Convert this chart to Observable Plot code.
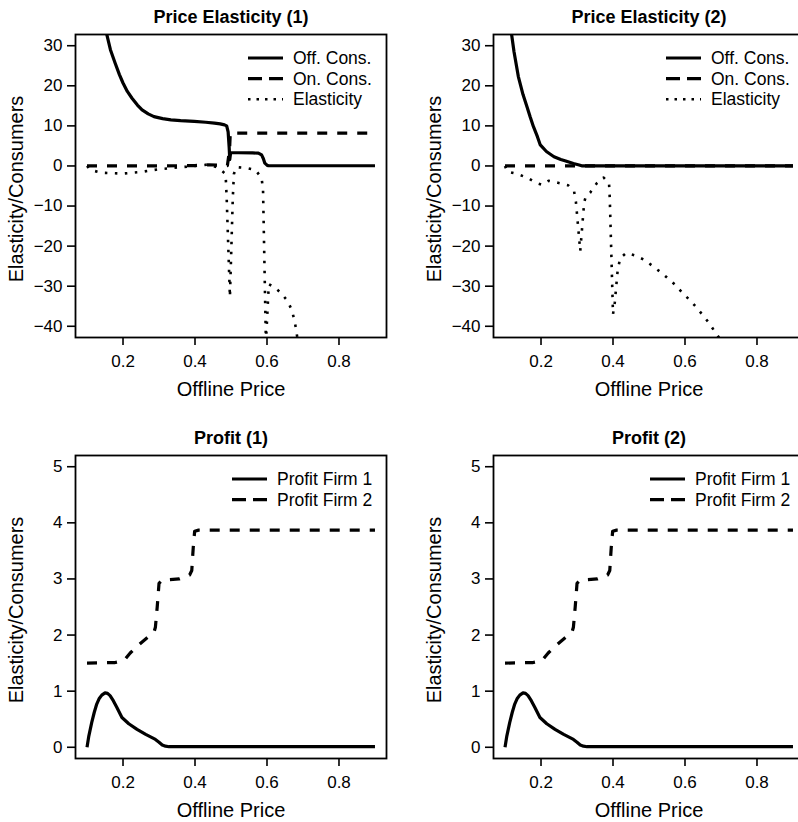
<!DOCTYPE html>
<html>
<head>
<meta charset="utf-8">
<script src="https://cdn.jsdelivr.net/npm/d3@7"></script>
<script src="https://cdn.jsdelivr.net/npm/@observablehq/plot@0.6"></script>
<style>
  html, body { margin: 0; padding: 0; background: #fff; }
  #fig { position: relative; width: 798px; height: 822px; overflow: hidden; background: #fff;
         font-family: "Liberation Sans", Arial, Helvetica, sans-serif; }
  .panel { position: absolute; }
  .legend { position: absolute; left: 0; top: 0; overflow: visible; pointer-events: none; }
</style>
</head>
<body>
<div id="fig"></div>
<script>
// ---------- text & ticks ----------
const titles = ["Price Elasticity (1)", "Price Elasticity (2)", "Profit (1)", "Profit (2)"];
const xLabel = "Offline Price";
const yLabel = "Elasticity/Consumers";
const xTicks = [0.2, 0.4, 0.6, 0.8];
const yTicksElasticity = [-40, -30, -20, -10, 0, 10, 20, 30];
const yTicksProfit = [0, 1, 2, 3, 4, 5];
const elasticitySeries = ["Off. Cons.", "On. Cons.", "Elasticity"];
const profitSeries = ["Profit Firm 1", "Profit Firm 2"];

// ---------- Price Elasticity (1) ----------
const off1X = [0.1, 0.11, 0.12, 0.13, 0.14, 0.15, 0.155, 0.165, 0.178, 0.19, 0.2, 0.212, 0.225, 0.24, 0.253, 0.27, 0.286, 0.31, 0.333, 0.36, 0.398, 0.43, 0.454, 0.47, 0.482, 0.488, 0.492, 0.495, 0.4965, 0.499, 0.52, 0.56, 0.576, 0.585, 0.59, 0.594, 0.6, 0.604, 0.7, 0.8, 0.9];
const off1Y = [80, 62, 52, 44, 38.5, 34.5, 32.75, 29, 25.7, 22.8, 20.7, 18.6, 16.9, 15.2, 14, 13, 12.3, 11.8, 11.5, 11.3, 11.1, 10.9, 10.7, 10.5, 10.25, 10, 8.5, 4.5, 1.6, 3.3, 3.3, 3.25, 3.2, 2.75, 1.8, 0.7, 0.2, 0.05, 0.05, 0.05, 0.05];
const on1X = [0.1, 0.2, 0.3, 0.4, 0.44, 0.47, 0.49, 0.496, 0.498, 0.6, 0.7, 0.8, 0.9];
const on1Y = [0, 0, 0, 0.1, 0.3, 0.2, 0.1, 4, 8.2, 8.2, 8.2, 8.2, 8.2];
const el1X = [0.1, 0.11, 0.14, 0.2, 0.25, 0.3, 0.35, 0.4, 0.44, 0.465, 0.485, 0.488, 0.497, 0.505, 0.508, 0.515, 0.543, 0.568, 0.585, 0.589, 0.597, 0.605, 0.62, 0.64, 0.658, 0.669, 0.676, 0.681, 0.686];
const el1Y = [0, -1, -1.7, -1.9, -1.5, -0.8, -0.4, 0, 0.4, -0.5, -2, -8, -32.7, -8, -2, -0.3, -0.5, -1, -3, -6, -44, -29.5, -30.2, -31.8, -33.8, -36, -38.4, -40.8, -44];

// ---------- Price Elasticity (2) ----------
const off2X = [0.1, 0.105, 0.11, 0.115, 0.118, 0.125, 0.137, 0.15, 0.161, 0.17, 0.179, 0.19, 0.198, 0.215, 0.236, 0.255, 0.273, 0.29, 0.306, 0.315, 0.4, 0.5, 0.6, 0.7, 0.8, 0.9];
const off2Y = [60, 48, 40, 35, 33, 28.5, 22.3, 17.8, 14.8, 12.2, 9.8, 7.3, 5.25, 3.6, 2.3, 1.6, 1.1, 0.6, 0.25, 0, 0, 0, 0, 0, 0, 0];
const on2X = [0.1, 0.2, 0.3, 0.5, 0.7, 0.9];
const on2Y = [0, 0, 0, 0, 0, 0];
const el2X = [0.1, 0.106, 0.134, 0.161, 0.186, 0.203, 0.221, 0.247, 0.275, 0.292, 0.297, 0.309, 0.32, 0.325, 0.337, 0.355, 0.374, 0.389, 0.391, 0.4, 0.405, 0.413, 0.42, 0.437, 0.461, 0.489, 0.513, 0.534, 0.555, 0.576, 0.594, 0.614, 0.633, 0.651, 0.668, 0.683, 0.7];
const el2Y = [0, -1.4, -2, -2.9, -4.2, -4.7, -3.7, -4.2, -4.8, -6.4, -9, -21.2, -9, -7.5, -6.6, -4.3, -2.9, -4.3, -8, -37, -34, -26, -23, -21.7, -22.3, -23.5, -25.2, -26.6, -28.25, -29.9, -31.8, -33.5, -35.4, -37.4, -39.3, -41.4, -43.5];

// ---------- Profit (1) and (2) ----------
const firm1X = [0.1, 0.105, 0.113, 0.12, 0.127, 0.134, 0.141, 0.15, 0.157, 0.164, 0.173, 0.183, 0.197, 0.216, 0.239, 0.263, 0.29, 0.3, 0.309, 0.318, 0.328, 0.4, 0.5, 0.6, 0.7, 0.8, 0.9];
const firm1Y = [0, 0.2, 0.44, 0.62, 0.77, 0.87, 0.93, 0.97, 0.96, 0.92, 0.83, 0.71, 0.53, 0.42, 0.32, 0.23, 0.14, 0.09, 0.04, 0.02, 0.01, 0.01, 0.01, 0.01, 0.01, 0.01, 0.01];
const firm2X = [0.1, 0.178, 0.2, 0.206, 0.22, 0.239, 0.263, 0.286, 0.29, 0.295, 0.3, 0.309, 0.356, 0.385, 0.391, 0.395, 0.399, 0.41, 0.5, 0.6, 0.7, 0.8, 0.9];
const firm2Y = [1.5, 1.51, 1.54, 1.57, 1.68, 1.8, 1.93, 2.05, 2.14, 2.5, 2.92, 2.98, 3.0, 3.07, 3.15, 3.55, 3.85, 3.87, 3.87, 3.87, 3.87, 3.87, 3.87];

// ---------- helpers ----------
const zip = (xs, ys) => xs.map((x, i) => ({x, y: ys[i]}));
const lineStyles = [
  {strokeWidth: 3.2},
  {strokeWidth: 3.2, strokeDasharray: "10,10"},
  {strokeWidth: 2.6, strokeDasharray: "2.5,7.5"}
];
const legendDash = [null, "14,7", "2.5,6"];

const W = 400, H = 407, M = {top: 34, right: 14, bottom: 70, left: 75};
const FONT = "Liberation Sans, Arial, Helvetica, sans-serif";

function panel({left, top, title, series, names, yDomain, yTicks, legendX, textX}) {
  const marks = [
    Plot.frame({stroke: "black", strokeWidth: 1.8}),
    Plot.axisX({ticks: xTicks, tickSize: 8, tickPadding: 9, strokeWidth: 1.6, fontSize: 17, label: null, tickFormat: d3.format(".1f")}),
    Plot.axisY({ticks: yTicks, tickSize: 8, tickPadding: 5, strokeWidth: 1.6, fontSize: 17, label: null, tickFormat: d3.format("~g")}),
    ...series.map((s, i) => Plot.line(s, {x: "x", y: "y", stroke: "black", clip: true,
        strokeLinejoin: "round", strokeLinecap: "butt", ...lineStyles[i]})),
    Plot.text([title], {text: d => d, frameAnchor: "top", dy: -17, fontSize: 18, fontWeight: "bold",
        textAnchor: "middle", lineAnchor: "middle"}),
    Plot.text([xLabel], {text: d => d, frameAnchor: "bottom", dy: 52, fontSize: 20,
        textAnchor: "middle", lineAnchor: "middle"}),
    Plot.text([yLabel], {text: d => d, frameAnchor: "left", dx: -59, dy: 3, rotate: -90, fontSize: 20,
        textAnchor: "middle", lineAnchor: "middle"})
  ];
  const chart = Plot.plot({
    width: W, height: H,
    marginTop: M.top, marginRight: M.right, marginBottom: M.bottom, marginLeft: M.left,
    x: {domain: [0.068, 0.932]},
    y: {domain: yDomain},
    style: {fontFamily: FONT, fontSize: "17px", color: "black", background: "transparent", overflow: "visible"},
    marks
  });
  const wrap = document.createElement("div");
  wrap.className = "panel";
  wrap.style.left = left + "px";
  wrap.style.top = top + "px";
  wrap.style.width = W + "px";
  wrap.style.height = H + "px";
  wrap.appendChild(chart);

  // legend (R style, no box), top-right inside the frame
  const svg = d3.create("svg").attr("class", "legend").attr("width", W).attr("height", H);
  const g = svg.append("g").attr("font-family", FONT).attr("font-size", 17.5).attr("fill", "black");
  names.forEach((name, i) => {
    const y = M.top + 24 + i * 20.6;
    const ln = g.append("line")
      .attr("x1", M.left + legendX).attr("x2", M.left + legendX + 35)
      .attr("y1", y).attr("y2", y)
      .attr("stroke", "black").attr("stroke-width", lineStyles[i].strokeWidth);
    if (legendDash[i]) ln.attr("stroke-dasharray", legendDash[i]);
    g.append("text").attr("x", M.left + textX).attr("y", y).attr("dy", "0.35em").text(name);
  });
  wrap.appendChild(svg.node());
  document.getElementById("fig").appendChild(wrap);
}

panel({left: 0, top: 0, title: titles[0],
  series: [zip(off1X, off1Y), zip(on1X, on1Y), zip(el1X, el1Y)], names: elasticitySeries,
  yDomain: [-42.8, 32.8], yTicks: yTicksElasticity, legendX: 173, textX: 218});
panel({left: 418, top: 0, title: titles[1],
  series: [zip(off2X, off2Y), zip(on2X, on2Y), zip(el2X, el2Y)], names: elasticitySeries,
  yDomain: [-42.8, 32.8], yTicks: yTicksElasticity, legendX: 173, textX: 218});
panel({left: 0, top: 421, title: titles[2],
  series: [zip(firm1X, firm1Y), zip(firm2X, firm2Y)], names: profitSeries,
  yDomain: [-0.2, 5.2], yTicks: yTicksProfit, legendX: 157, textX: 202});
panel({left: 418, top: 421, title: titles[3],
  series: [zip(firm1X, firm1Y), zip(firm2X, firm2Y)], names: profitSeries,
  yDomain: [-0.2, 5.2], yTicks: yTicksProfit, legendX: 157, textX: 202});
</script>
</body>
</html>
